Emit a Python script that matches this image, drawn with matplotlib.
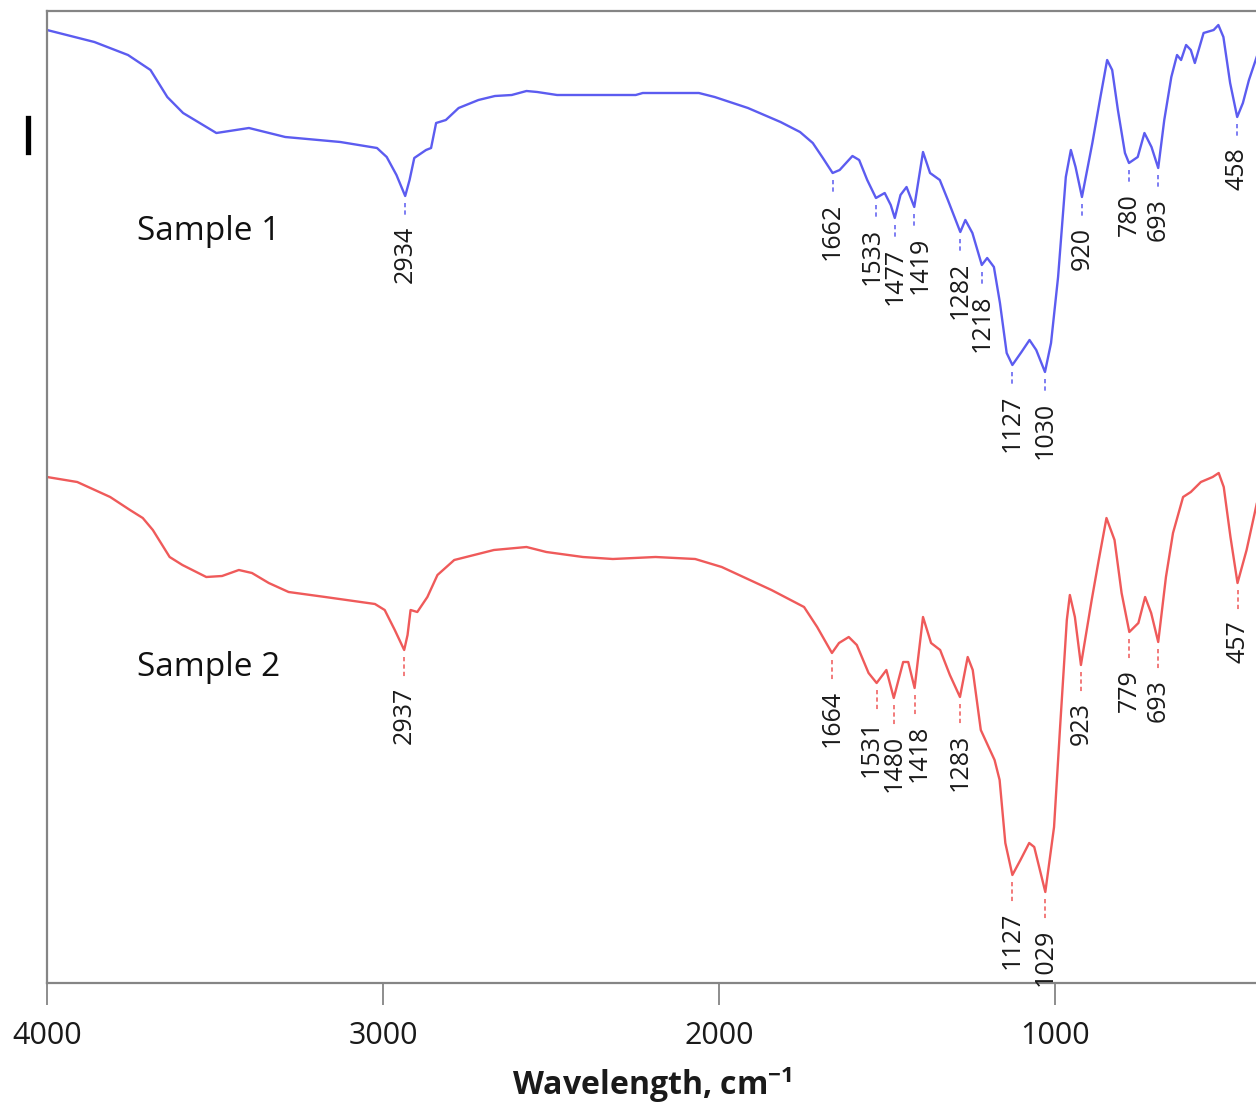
import matplotlib
matplotlib.use("Agg")
import matplotlib.pyplot as plt
from matplotlib.lines import Line2D
import numpy as np

plt.rcParams['font.family'] = ['Open Sans', 'DejaVu Sans']
plt.rcParams['mathtext.fontset'] = 'custom'
plt.rcParams['mathtext.rm'] = 'Open Sans'
plt.rcParams['mathtext.bf'] = 'Open Sans:bold'

# ---- data (wavenumber cm^-1, transmittance in arbitrary units) ----
s1_wn = [4000, 3859, 3759, 3692, 3642, 3595, 3496, 3399, 3291, 3127, 3018, 2989, 2960,
         2934, 2921, 2907, 2872, 2857, 2842, 2813, 2775, 2716, 2667, 2617, 2573, 2541,
         2482, 2403, 2248, 2227, 2060, 2013, 1914, 1817, 1759, 1721, 1691, 1662, 1641,
         1603, 1583, 1559, 1533, 1507, 1489, 1477, 1460, 1442, 1419, 1393, 1372, 1343,
         1319, 1282, 1267, 1246, 1218, 1202, 1182, 1164, 1144, 1127, 1100, 1076, 1056,
         1030, 1012, 991, 968, 953, 939, 920, 889, 865, 845, 830, 813, 792, 780, 754,
         734, 713, 693, 675, 654, 637, 625, 610, 596, 584, 558, 528, 514, 499, 479, 458,
         441, 423, 400]
s1_t = [95.3, 94.1, 92.8, 91.3, 88.6, 87.0, 85.0, 85.5, 84.6, 84.1, 83.5, 82.6, 80.8,
        78.7, 80.3, 82.5, 83.3, 83.5, 86.0, 86.3, 87.5, 88.3, 88.7, 88.8, 89.2, 89.1,
        88.8, 88.8, 88.8, 89.0, 89.0, 88.6, 87.5, 86.1, 85.1, 84.0, 82.5, 81.0, 81.3,
        82.7, 82.3, 80.3, 78.5, 79.0, 77.8, 76.5, 78.8, 79.6, 77.6, 83.1, 81.0, 80.3,
        78.3, 75.1, 76.3, 75.0, 71.8, 72.5, 71.6, 68.0, 63.0, 61.8, 63.1, 64.3, 63.3,
        61.1, 64.0, 70.6, 80.6, 83.3, 81.6, 78.6, 84.0, 88.6, 92.3, 91.3, 87.3, 83.0,
        82.0, 82.6, 85.0, 83.6, 81.5, 86.3, 90.6, 92.8, 92.3, 93.8, 93.3, 92.0, 95.0,
        95.3, 95.8, 94.6, 90.0, 86.6, 88.0, 90.3, 92.6]

s2_wn = [4000, 3910, 3812, 3753, 3715, 3685, 3635, 3597, 3526, 3479, 3429, 3390, 3340,
         3281, 3172, 3024, 2995, 2965, 2937, 2927, 2918, 2898, 2868, 2838, 2788, 2670,
         2573, 2514, 2405, 2316, 2189, 2071, 1992, 1844, 1747, 1708, 1664, 1643, 1614,
         1590, 1555, 1531, 1502, 1480, 1452, 1437, 1418, 1393, 1369, 1342, 1313, 1283,
         1260, 1245, 1221, 1180, 1165, 1148, 1127, 1103, 1077, 1062, 1029, 1003, 985,
         965, 956, 941, 923, 891, 870, 847, 823, 802, 779, 752, 732, 714, 693, 670, 649,
         619, 596, 566, 531, 513, 498, 478, 457, 430, 400]
s2_t = [50.6, 50.1, 48.6, 47.3, 46.5, 45.3, 42.6, 41.8, 40.6, 40.7, 41.3, 41.0, 40.0,
        39.1, 38.6, 37.9, 37.3, 35.3, 33.3, 34.8, 37.3, 37.1, 38.6, 40.8, 42.3, 43.3,
        43.6, 43.1, 42.6, 42.4, 42.6, 42.4, 41.6, 39.3, 37.6, 35.6, 33.0, 34.0, 34.6,
        33.8, 31.0, 30.0, 31.3, 28.5, 32.1, 32.1, 29.5, 36.6, 34.0, 33.3, 30.8, 28.6,
        32.6, 31.3, 25.3, 22.3, 20.3, 14.0, 10.8, 12.3, 14.0, 13.6, 9.1, 15.6, 25.6,
        36.3, 38.8, 36.6, 31.8, 38.3, 42.3, 46.5, 44.3, 39.0, 35.1, 36.0, 38.6, 37.0,
        34.1, 40.6, 45.0, 48.6, 49.1, 50.1, 50.6, 51.0, 49.6, 44.6, 40.0, 43.3, 47.9]

s1_peaks = [2934, 1662, 1533, 1477, 1419, 1282, 1218, 1127, 1030, 920, 780, 693, 458]
s2_peaks = [2937, 1664, 1531, 1480, 1418, 1283, 1127, 1029, 923, 779, 693, 457]

sample_names = ["Sample 1", "Sample 2"]
xticks = [4000, 3000, 2000, 1000]

blue = '#5c5cf0'
red = '#ef5a5a'
gray = '#858585'

# small horizontal nudges (points) for crowded peak labels
nudge1 = {1533: -2.5, 1419: 4.5}
nudge2 = {1531: -4.0, 1418: 3.0}

fig = plt.figure(figsize=(12.56, 11.07), dpi=100)
ax = fig.add_axes([47/1256, (1107-983)/1107, 1209/1256, 972/1107])

ax.plot(s1_wn, s1_t, color=blue, lw=1.7, solid_joinstyle='round')
ax.plot(s2_wn, s2_t, color=red, lw=1.7, solid_joinstyle='round')

def label_peaks(wn, t, peaks, color, off, nudge):
    for p in peaks:
        yv = np.interp(-p, -np.array(wn), np.array(t))
        ax.plot([p, p], [yv - 0.7, yv - (off - 1.0)], color=color, lw=1.4,
                ls=(0, (2.2, 1.6)), alpha=0.8)
        ax.annotate(str(p), xy=(p, yv - off), xytext=(nudge.get(p, 0), 0),
                    textcoords='offset points', rotation=90, ha='center', va='top',
                    fontsize=18, color='#1a1a1a')

label_peaks(s1_wn, s1_t, s1_peaks, blue, 3.0, nudge1)
label_peaks(s2_wn, s2_t, s2_peaks, red, 3.7, nudge2)

ax.text(3518, 75.2, sample_names[0], fontsize=24, ha='center', va='center', color='#111111')
ax.text(3518, 31.6, sample_names[1], fontsize=24, ha='center', va='center', color='#111111')

ax.set_xlim(4000, 402)
ax.set_ylim(0, 97.2)
ax.set_xticks(xticks)
ax.set_xticklabels([str(v) for v in xticks])
ax.set_yticks([])
ax.tick_params(axis='x', direction='out', length=16, width=1.3, color=gray,
               pad=11, labelsize=22, labelcolor='#1a1a1a')
for side in ['left', 'top', 'bottom']:
    ax.spines[side].set_color(gray)
    ax.spines[side].set_linewidth(1.6)
ax.spines['right'].set_visible(False)

ax.set_xlabel(r'Wavelength, cm$^{\mathbf{-1}}$', fontsize=23, fontweight='bold',
              color='#1a1a1a', labelpad=10)

# small vertical scale bar at left
fig.add_artist(Line2D([27.5/1256, 27.5/1256], [(1107-118)/1107, (1107-152)/1107],
                      color='black', lw=3.8, transform=fig.transFigure))

fig.savefig('out.png', dpi=100)
